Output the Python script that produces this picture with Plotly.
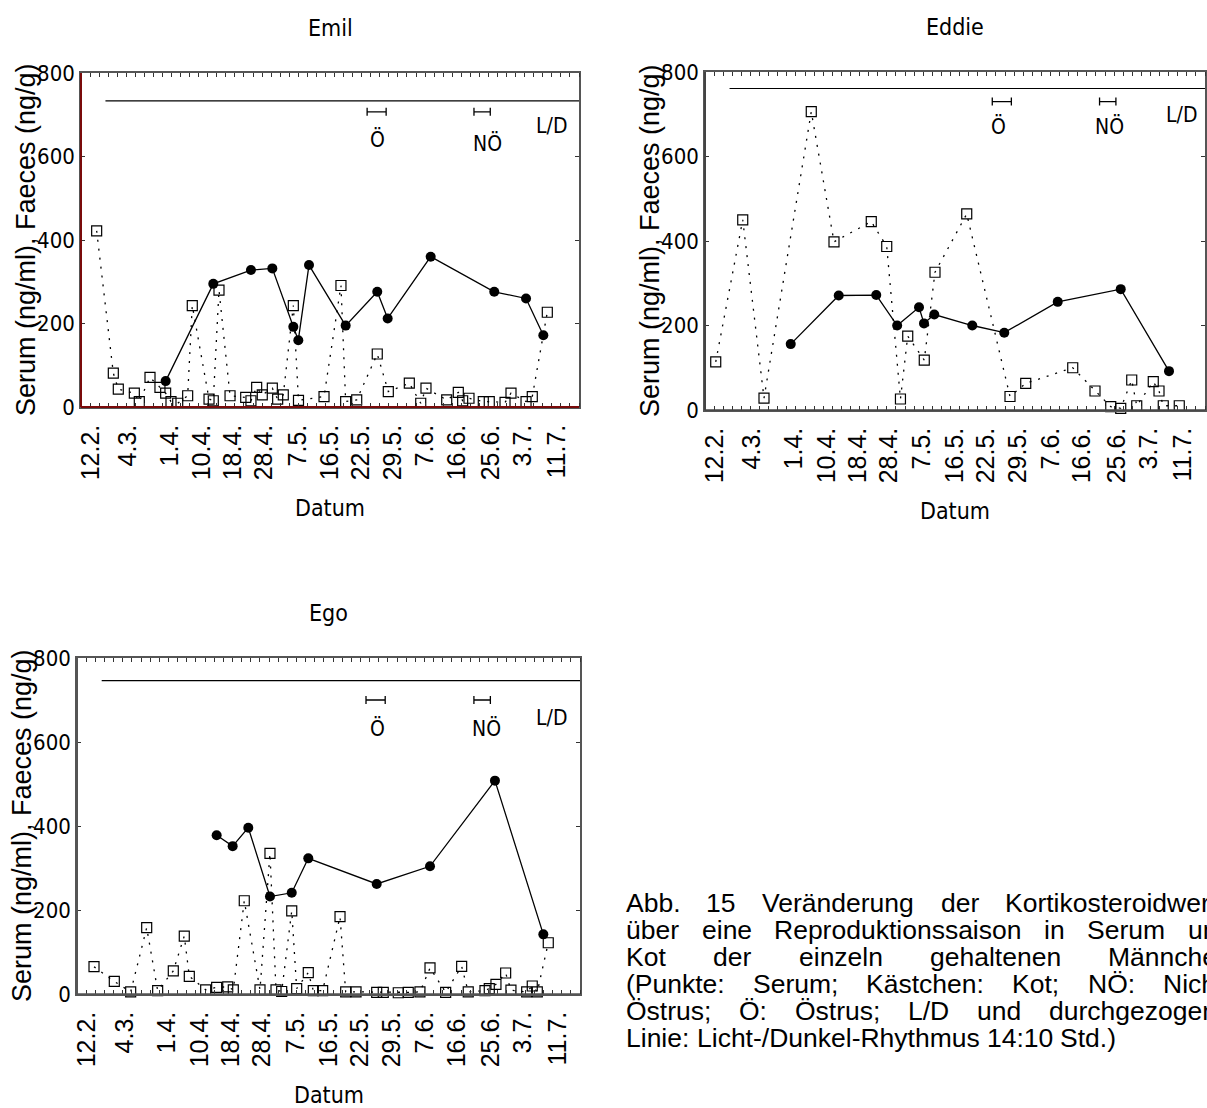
import plotly.graph_objects as go

W, H = 1207, 1108

# ---------------- data ----------------
# x = sampling-day index on the (non-linear) date axis
tick_pos = [0.1, 4.2, 8.8, 12.4, 15.8, 19.2, 22.9, 26.5, 29.9, 33.4, 37.0, 40.5, 44.3, 47.8, 51.6]
tick_labels = ["12.2.", "4.3.", "1.4.", "10.4.", "18.4.", "28.4.", "7.5.", "16.5.",
               "22.5.", "29.5.", "7.6.", "16.6.", "25.6.", "3.7.", "11.7."]
y_ticks = [0, 200, 400, 600, 800]

emil_serum_x = [8.35, 13.61, 17.77, 20.13, 22.45, 23.0, 24.18, 28.23, 31.72, 32.87, 37.62, 44.64, 48.15, 50.06]
emil_serum_y = [62, 295, 328, 332, 192, 160, 340, 195, 276, 212, 360, 276, 260, 172]
emil_faeces_x = [0.73, 2.57, 3.12, 4.89, 5.44, 6.62, 7.72, 8.35, 8.94, 9.68, 10.78, 11.29, 13.14, 13.61,
                 14.24, 15.46, 17.19, 17.77, 18.4, 19.02, 20.13, 20.72, 21.34, 22.45, 23.02, 25.84, 27.71,
                 28.23, 29.45, 31.72, 32.94, 35.26, 36.52, 37.1, 39.39, 40.67, 41.15, 41.85, 43.43, 44.09,
                 45.83, 46.49, 48.15, 48.84, 50.5]
emil_faeces_y = [422, 81, 43, 33, 13, 71, 47, 33, 13, 9, 27, 243, 19, 15, 280, 27, 23, 15, 47, 29, 45, 19,
                 29, 243, 16, 25, 291, 13, 17, 127, 37, 57, 9, 45, 17, 35, 15, 21, 13, 13, 11, 33, 13, 25, 227]

eddie_serum_x = [8.43, 13.71, 17.84, 20.14, 22.54, 23.09, 24.22, 28.4, 31.92, 37.8, 44.73, 50.04]
eddie_serum_y = [156, 271, 272, 200, 243, 205, 226, 200, 183, 256, 286, 92]
eddie_faeces_x = [0.18, 3.15, 5.49, 10.69, 13.19, 17.29, 18.99, 20.5, 21.3, 23.12, 24.3, 27.79, 32.55,
                  34.28, 39.45, 41.9, 43.63, 44.73, 45.94, 46.49, 48.31, 48.94, 49.41, 51.17]
eddie_faeces_y = [114, 450, 28, 706, 398, 446, 387, 26, 175, 118, 326, 464, 32, 63, 100, 45, 8, 4, 71,
                  10, 67, 45, 10, 10]

ego_serum_x = [14.27, 16.02, 17.73, 20.1, 22.48, 24.29, 31.77, 37.6, 44.7, 49.99]
ego_serum_y = [378, 352, 396, 232, 241, 323, 262, 304, 508, 142]
ego_faeces_x = [0.86, 3.08, 4.87, 6.62, 7.82, 9.53, 10.73, 11.28, 13.07, 14.27, 15.48, 16.09, 17.29,
                19.01, 20.1, 20.76, 21.38, 22.48, 23.02, 24.29, 24.84, 25.86, 27.76, 28.38, 29.51, 31.77,
                32.49, 34.13, 35.22, 36.5, 37.6, 39.31, 41.06, 41.78, 43.61, 44.08, 44.81, 45.87, 46.45,
                48.17, 48.78, 49.33, 50.53]
ego_faeces_y = [65, 30, 5, 158, 8, 55, 138, 42, 10, 16, 17, 10, 222, 10, 335, 10, 6, 198, 13, 51, 8, 8,
                184, 5, 5, 4, 4, 3, 4, 5, 62, 4, 66, 5, 8, 13, 23, 50, 9, 5, 19, 5, 122]

# light/dark regime line and oestrus periods
ld_x = [1.7, 54.0]
ld_level = {"Emil": 733, "Eddie": 761, "Ego": 746}
oe_range = [30.6, 32.7]     # Ö  (Östrus)
noe_range = [42.4, 44.2]    # NÖ (Nicht-Östrus)
bracket_level = {"Emil": 707, "Eddie": 730, "Ego": 700}

caption_lines = [
    "Abb. 15 Veränderung der Kortikosteroidwerte",
    "über eine Reproduktionssaison in Serum und",
    "Kot der einzeln gehaltenen Männchen",
    "(Punkte: Serum; Kästchen: Kot; NÖ: Nicht-",
    "Östrus; Ö: Östrus; L/D und durchgezogene",
    "Linie: Licht-/Dunkel-Rhythmus 14:10 Std.)",
]

# ---------------- styling ----------------
NARROW = "Liberation Sans Narrow, Arial Narrow, DejaVu Sans Condensed, Roboto Condensed, Liberation Sans, sans-serif"
ARIAL = "Liberation Sans, Arial, sans-serif"
X_MIN, X_MAX = -1.0, 54.0
FRAME = "#555555"

panels = [
    # name, xaxis id, yaxis id, box (left, top, right, bottom) px, left/bottom line colour
    ("Emil", "x", "y", (81, 73, 579, 407), "#7a0a0a"),
    ("Eddie", "x2", "y2", (705, 72, 1205, 410), "#444444"),
    ("Ego", "x3", "y3", (77, 658, 580, 994), "#555555"),
]
data = {
    "Emil": (emil_serum_x, emil_serum_y, emil_faeces_x, emil_faeces_y),
    "Eddie": (eddie_serum_x, eddie_serum_y, eddie_faeces_x, eddie_faeces_y),
    "Ego": (ego_serum_x, ego_serum_y, ego_faeces_x, ego_faeces_y),
}
label_pos = {
    "Emil": dict(oe=(31.8, 640), noe=(43.9, 632), ld=(51.0, 673)),
    "Eddie": dict(oe=(31.3, 670), noe=(43.5, 670), ld=(51.4, 698)),
    "Ego": dict(oe=(31.9, 633), noe=(43.8, 633), ld=(50.9, 657)),
}

fig = go.Figure()
annotations = []
shapes = []

for name, xa, ya, (l, t, r, b), lc in panels:
    sx, sy, fx, fy = data[name]
    fig.add_trace(go.Scatter(x=fx, y=fy, xaxis=xa, yaxis=ya, mode="lines+markers",
                             line=dict(color="black", width=1.3, dash="2px,7px"),
                             marker=dict(symbol="square-open", size=10, color="black", line=dict(width=1.2)),
                             cliponaxis=False, showlegend=False))
    fig.add_trace(go.Scatter(x=sx, y=sy, xaxis=xa, yaxis=ya, mode="lines+markers",
                             line=dict(color="black", width=1.3),
                             marker=dict(symbol="circle", size=10, color="black"),
                             cliponaxis=False, showlegend=False))
    fig.add_trace(go.Scatter(x=ld_x, y=[ld_level[name]] * 2, xaxis=xa, yaxis=ya, mode="lines",
                             line=dict(color="black", width=1.2), showlegend=False))
    for rng in (oe_range, noe_range):
        c = (rng[0] + rng[1]) / 2
        fig.add_trace(go.Scatter(x=[c], y=[bracket_level[name]], xaxis=xa, yaxis=ya, mode="markers",
                                 marker=dict(size=1, color="rgba(0,0,0,0)"),
                                 error_x=dict(type="data", array=[(rng[1] - rng[0]) / 2], width=4,
                                              thickness=1.3, color="black"),
                                 showlegend=False))
    lp = label_pos[name]
    for key, txt in (("oe", "Ö"), ("noe", "NÖ"), ("ld", "L/D")):
        annotations.append(dict(x=lp[key][0], y=lp[key][1], xref=xa, yref=ya, text=txt,
                                xanchor="center", yanchor="middle",
                                showarrow=False, font=dict(family=NARROW, size=21, color="black")))

    dom_x = [l / W, r / W]
    dom_y = [1 - b / H, 1 - t / H]
    axis_common = dict(showline=True, linecolor=FRAME, linewidth=1.5, mirror="ticks",
                       showgrid=False, zeroline=False, automargin=False)
    xkey = "xaxis" if xa == "x" else "xaxis" + xa[1:]
    ykey = "yaxis" if ya == "y" else "yaxis" + ya[1:]
    fig.layout[xkey] = dict(domain=dom_x, anchor=ya, range=[X_MIN, X_MAX],
                            tickmode="array", tickvals=tick_pos, ticktext=tick_labels,
                            tickangle=-90, ticks="", ticklabelstandoff=6,
                            tickfont=dict(family=ARIAL, size=25, color="black"),
                            minor=dict(ticks="inside", dtick=1, tick0=0, ticklen=4,
                                       tickcolor="#333333", tickwidth=1),
                            **axis_common)
    fig.layout[ykey] = dict(domain=dom_y, anchor=xa, range=[0, 800],
                            tickmode="array", tickvals=y_ticks,
                            ticks="inside", ticklen=4, tickcolor="#333333",
                            tickfont=dict(family=NARROW, size=22, color="black"),
                            **axis_common)
    # left and bottom frame edges (dark red for Emil, heavier grey otherwise)
    shapes.append(dict(type="line", xref=xa + " domain", yref=ya + " domain", x0=0, x1=0, y0=0, y1=1,
                       line=dict(color=lc, width=2), layer="above"))
    shapes.append(dict(type="line", xref=xa + " domain", yref=ya + " domain", x0=0, x1=1, y0=0, y1=0,
                       line=dict(color=lc, width=2 if name == "Emil" else 1.5), layer="above"))

    cx = (l + r) / 2
    cy = (t + b) / 2
    common = dict(xref="paper", yref="paper", showarrow=False, xanchor="center", yanchor="middle")
    annotations.append(dict(x=cx / W, y=1 - (t - 45) / H, text=name,
                            font=dict(family=NARROW, size=23, color="black"), **common))
    annotations.append(dict(x=cx / W, y=1 - (b + 101) / H, text="Datum",
                            font=dict(family=NARROW, size=23, color="black"), **common))
    annotations.append(dict(x=(l - 55) / W, y=1 - cy / H, text="Serum (ng/ml), Faeces (ng/g)",
                            textangle=-90, font=dict(family=ARIAL, size=27, color="black"), **common))

# ---------------- caption (justified) ----------------
AW = {}
AW.update({c: 556 for c in "0123456789"})
AW.update(dict(zip("ABCDEFGHIJKLMNOPQRSTUVWXYZ",
                   [667, 667, 722, 722, 667, 611, 778, 722, 278, 500, 667, 556, 833, 722, 778, 667,
                    778, 722, 667, 611, 722, 667, 944, 667, 667, 611])))
AW.update(dict(zip("abcdefghijklmnopqrstuvwxyz",
                   [556, 556, 500, 556, 556, 278, 556, 556, 222, 222, 500, 222, 833, 556, 556, 556,
                    556, 333, 500, 278, 556, 500, 722, 500, 500, 500])))
AW.update({"ä": 556, "ö": 556, "ü": 556, "Ä": 667, "Ö": 778, "Ü": 722, ".": 278, ",": 278, ":": 278,
           ";": 278, "(": 333, ")": 333, "-": 333, "/": 278, " ": 278})

CAP_SIZE = 26.5
CAP_LEFT, CAP_RIGHT = 625, 1231
cap_y = [903, 930, 957, 984, 1011, 1038]
for i, line in enumerate(caption_lines):
    words = line.split(" ")
    widths = [sum(AW.get(ch, 556) for ch in w) * CAP_SIZE / 1000 for w in words]
    if i < len(caption_lines) - 1:
        gap = (CAP_RIGHT - CAP_LEFT - sum(widths)) / (len(words) - 1)
    else:
        gap = AW[" "] * CAP_SIZE / 1000
    xpos = CAP_LEFT
    for w, wd in zip(words, widths):
        annotations.append(dict(x=xpos / W, y=1 - cap_y[i] / H, xref="paper", yref="paper",
                                xanchor="left", yanchor="middle", text=w, showarrow=False,
                                borderpad=0,
                                font=dict(family=ARIAL, size=CAP_SIZE, color="black")))
        xpos += wd + gap

fig.update_layout(width=W, height=H, margin=dict(l=0, r=0, t=0, b=0),
                  paper_bgcolor="white", plot_bgcolor="white",
                  annotations=annotations, shapes=shapes, showlegend=False)

fig.write_html("out.html", config={"displayModeBar": False},
               post_script="document.body.style.margin='0';")
